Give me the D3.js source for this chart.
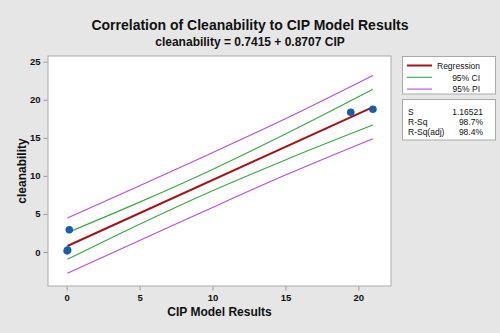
<!DOCTYPE html>
<html><head><meta charset="utf-8">
<script src="https://cdn.jsdelivr.net/npm/d3@7"></script>
<style>
html,body{margin:0;padding:0;background:#e6e6e6;}
svg{display:block;font-family:"Liberation Sans",Arial,sans-serif;}
</style></head>
<body>
<svg id="chart" width="500" height="333"></svg>
<script>
// ---- data ----
const pointsX = [0.07, 0.03, 0.18, 19.48, 21.0];
const pointsY = [0.26, 0.15, 2.93, 18.36, 18.75];
const intercept = 0.7415, slope = 0.8707;
const bandX = [0.05, 5, 10, 15, 21];
const ciUpper = [2.54, 6.55, 10.85, 15.5, 21.38];
const ciLower = [-0.97, 3.65, 8.05, 12.1, 16.68];
const piUpper = [4.45, 8.7, 13.05, 17.5, 23.18];
const piLower = [-2.8, 1.5, 5.85, 10.1, 14.88];
const xTicks = [0, 5, 10, 15, 20];
const yTicks = [0, 5, 10, 15, 20, 25];
const legendItems = ["Regression", "95% CI", "95% PI"];
const statLabels = ["S", "R-Sq", "R-Sq(adj)"];
const statValues = ["1.16521", "98.7%", "98.4%"];

const colReg = "#a0141a", colCI = "#3aa641", colPI = "#b24fd6", colPt = "#1a5ea8";
const svg = d3.select("#chart");
const L = 48, R = 391, T = 56, B = 286;
const x = d3.scaleLinear().domain([-1.28, 22.24]).range([L, R]);
const y = d3.scaleLinear().domain([-4.47, 25.75]).range([B, T]);

svg.append("rect").attr("width",500).attr("height",333).attr("fill","#e6e6e6");
svg.append("rect").attr("x",L).attr("y",T).attr("width",R-L).attr("height",B-T)
  .attr("fill","#fff").attr("stroke","#aaaaaa").attr("stroke-width",1);

// axes
const xAxis = svg.append("g").attr("transform",`translate(0,${B+0.5})`)
  .call(d3.axisBottom(x).tickValues(xTicks).tickSize(4).tickPadding(4).tickFormat(d3.format("d")));
const yAxis = svg.append("g").attr("transform",`translate(${L-0.5},0)`)
  .call(d3.axisLeft(y).tickValues(yTicks).tickSize(4).tickPadding(3).tickFormat(d3.format("d")));
[xAxis,yAxis].forEach(g=>{
  g.select(".domain").remove();
  g.selectAll(".tick line").attr("stroke","#999");
  g.selectAll(".tick text").attr("fill","#111").style("font-size","9.5px").style("font-weight","bold");
});

// bands
const bandLine = arr => d3.line().curve(d3.curveMonotoneX)
  .x((d,i)=>x(bandX[i])).y((d,i)=>y(arr[i]))(arr);
[[piUpper,colPI],[piLower,colPI],[ciUpper,colCI],[ciLower,colCI]].forEach(([a,c])=>{
  svg.append("path").attr("d",bandLine(a)).attr("fill","none").attr("stroke",c).attr("stroke-width",1.1);
});
const rx = [bandX[0], bandX[bandX.length-1]];
svg.append("line").attr("x1",x(rx[0])).attr("x2",x(rx[1]))
  .attr("y1",y(intercept+slope*rx[0])).attr("y2",y(intercept+slope*rx[1]))
  .attr("stroke",colReg).attr("stroke-width",2);

// points
svg.selectAll("circle.pt").data(pointsX).enter().append("circle").attr("class","pt")
  .attr("cx",(d)=>x(d)).attr("cy",(d,i)=>y(pointsY[i])).attr("r",3.8).attr("fill",colPt);

// titles
svg.append("text").attr("x",250).attr("y",30).attr("text-anchor","middle")
  .style("font-size","14px").style("font-weight","bold").attr("fill","#111")
  .text("Correlation of Cleanability to CIP Model Results");
svg.append("text").attr("x",250).attr("y",46).attr("text-anchor","middle")
  .style("font-size","12px").style("font-weight","bold").attr("fill","#111")
  .text("cleanability = 0.7415 + 0.8707 CIP");
svg.append("text").attr("x",(L+R)/2).attr("y",316).attr("text-anchor","middle")
  .style("font-size","12px").style("font-weight","bold").attr("fill","#111")
  .text("CIP Model Results");
svg.append("text").attr("transform","translate(26,171) rotate(-90)").attr("text-anchor","middle")
  .style("font-size","12px").style("font-weight","bold").attr("fill","#111")
  .text("cleanability");

// legend
svg.append("rect").attr("x",402.5).attr("y",56.5).attr("width",93).attr("height",37.5)
  .attr("fill","#fff").attr("stroke","#aaaaaa");
const legCols = [colReg,colCI,colPI];
legendItems.forEach((t,i)=>{
  const yy = 65.5 + i*11.8;
  svg.append("line").attr("x1",407).attr("x2",432).attr("y1",yy).attr("y2",yy)
    .attr("stroke",legCols[i]).attr("stroke-width",i===0?2:1.1);
  svg.append("text").attr("x",480).attr("y",yy+3.2).attr("text-anchor","end")
    .style("font-size","8.5px").attr("fill","#111").text(t);
});
svg.append("rect").attr("x",402.5).attr("y",99.5).attr("width",93).attr("height",40.5)
  .attr("fill","#fff").attr("stroke","#aaaaaa");
statLabels.forEach((t,i)=>{
  const yy = 111.7 + i*9.8;
  svg.append("text").attr("x",408).attr("y",yy+3.2).style("font-size","8.5px").attr("fill","#111").text(t);
  svg.append("text").attr("x",483).attr("y",yy+3.2).attr("text-anchor","end")
    .style("font-size","8.5px").attr("fill","#111").text(statValues[i]);
});
</script>
</body></html>
